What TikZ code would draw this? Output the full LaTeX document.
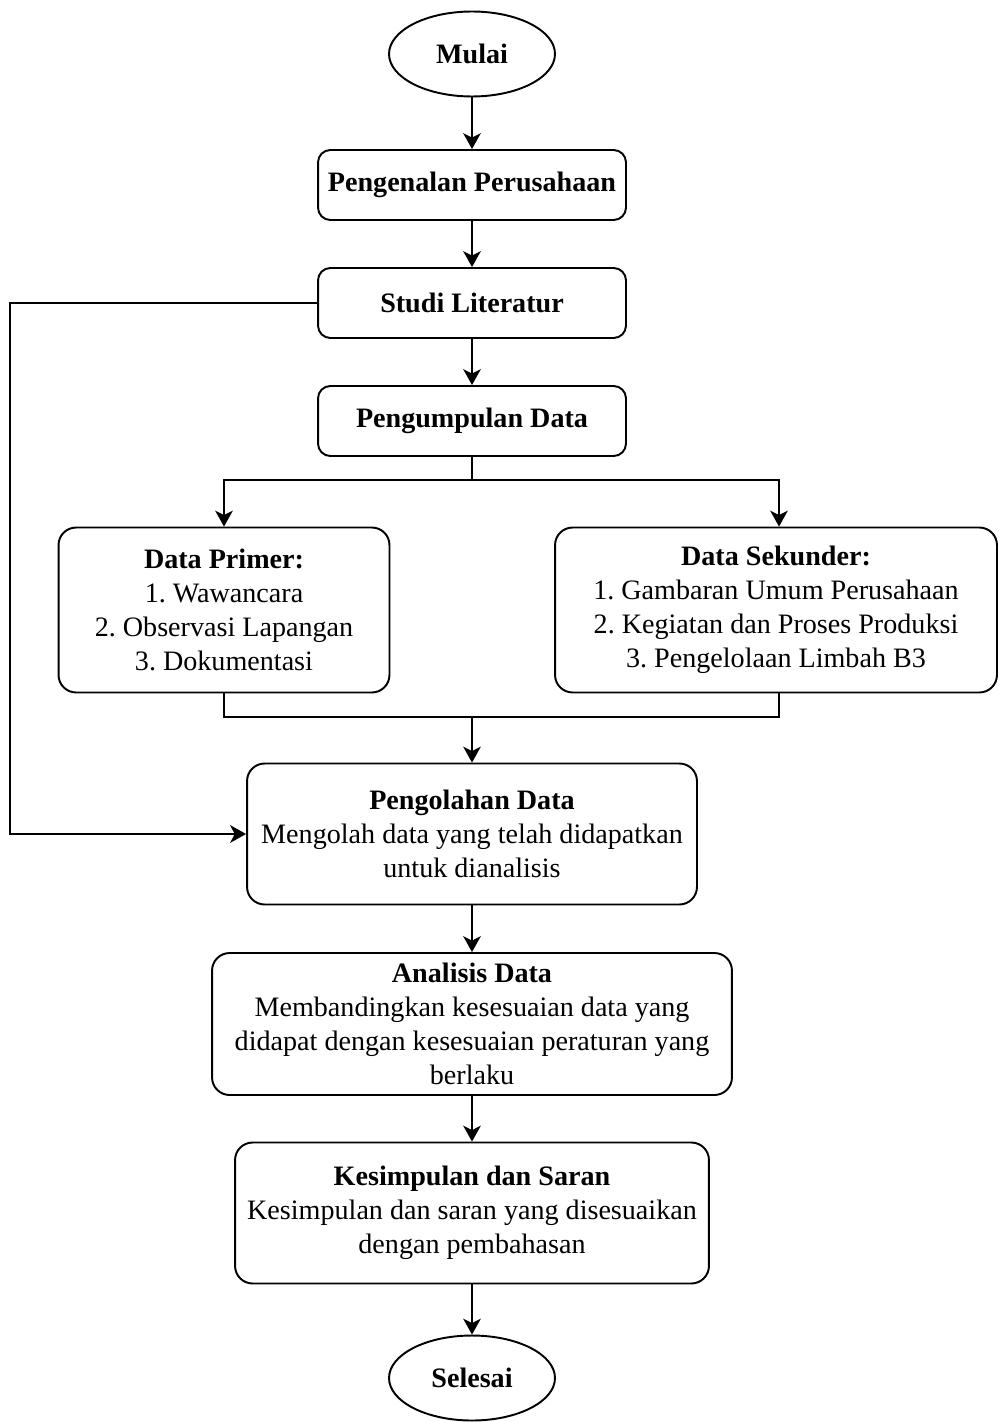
\documentclass[tikz,border=0pt]{standalone}
\usepackage{fontspec}
\setmainfont{Liberation Serif}
\usetikzlibrary{positioning, arrows.meta, shapes.geometric}
\frenchspacing

\begin{document}
\begin{tikzpicture}[
  x=0.02cm, y=-0.02cm,
  every node/.style={font=\fontsize{16}{19.4}\selectfont},
  lw/.style={line width=1.1pt},
  term/.style={lw, draw, ellipse, minimum width=3.32cm, minimum height=1.7cm,
               inner sep=0pt, font=\fontsize{16}{19.4}\selectfont\bfseries},
  proc/.style={lw, draw, rounded corners=7pt, minimum width=6.16cm,
               minimum height=1.4cm, align=center, font=\fontsize{16}{19.4}\selectfont\bfseries},
  info/.style={lw, draw, rounded corners=10pt, align=center, inner sep=2pt},
  arr/.style={lw, -{Stealth[length=9pt, width=10pt, inset=2.5pt]}},
  ln/.style={lw},
]
  \useasboundingbox (0,0) rectangle (998,1422);

  \node[term] (mulai) at (472,54) {Mulai};
  \node[proc] (kenal) at (472,185) {Pengenalan Perusahaan};
  \node[proc] (studi) at (472,303) {Studi Literatur};
  \node[proc] (kumpul) at (472,421) {Pengumpulan Data};

  \node[info, minimum width=6.62cm, minimum height=3.3cm] (primer) at (224,610)
    {\textbf{Data Primer:}\\1. Wawancara\\2. Observasi Lapangan\\3. Dokumentasi};
  \node[info, minimum width=8.84cm, minimum height=3.3cm] (sekunder) at (776,610)
    {\textbf{Data Sekunder:}\\1. Gambaran Umum Perusahaan\\2. Kegiatan dan Proses Produksi\\3. Pengelolaan Limbah B3};

  \node[info, minimum width=9.0cm, minimum height=2.82cm] (olah) at (472,834)
    {\textbf{Pengolahan Data}\\Mengolah data yang telah didapatkan\\untuk dianalisis};
  \node[info, minimum width=10.4cm, minimum height=2.84cm] (analisis) at (472,1024)
    {\textbf{Analisis Data}\\Membandingkan kesesuaian data yang\\didapat dengan kesesuaian peraturan yang\\berlaku};
  \node[info, minimum width=9.48cm, minimum height=2.82cm] (simpul) at (472,1213)
    {\textbf{Kesimpulan dan Saran}\\Kesimpulan dan saran yang disesuaikan\\dengan pembahasan};
  \node[term] (selesai) at (472,1378) {Selesai};

  % main flow
  \draw[arr] (mulai) -- (kenal);
  \draw[arr] (kenal) -- (studi);
  \draw[arr] (studi) -- (kumpul);

  % split into primary and secondary data
  \coordinate (split) at (472,480);
  \draw[ln] (kumpul) -- (split);
  \draw[arr] (split) -| ([xshift=0.06cm]sekunder.north);
  \draw[arr] (split) -| (primer.north);

  % merge
  \coordinate (merge) at (472,717);
  \draw[ln] (primer.south) |- (merge);
  \draw[ln] ([xshift=0.06cm]sekunder.south) |- (merge);
  \draw[arr] (merge) -- (olah);

  % literature feeds processing directly
  \coordinate (side) at (10,303);
  \draw[arr] (studi.west) -- (side) |- (olah.west);

  \draw[arr] (olah) -- (analisis);
  \draw[arr] (analisis) -- (simpul);
  \draw[arr] (simpul) -- (selesai);
\end{tikzpicture}
\end{document}
